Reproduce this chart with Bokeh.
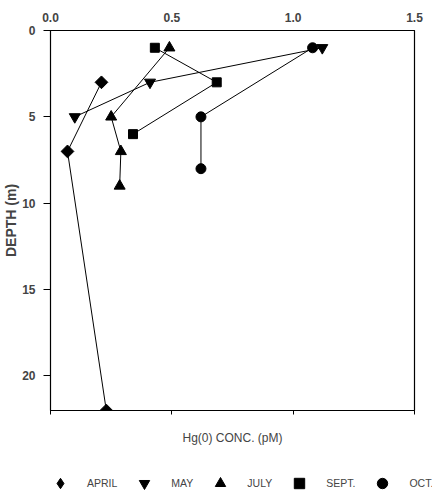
import math
from bokeh.plotting import figure
from bokeh.layouts import column
from bokeh.models import Range1d, LinearAxis, Legend, LegendItem, FixedTicker, CustomJSTickFormatter
from bokeh.embed import file_html
from bokeh.resources import INLINE

# Hg(0) concentration (pM) vs depth (m) for each sampling month
april_conc = [0.21, 0.07, 0.23]
april_depth = [3, 7, 22]
may_conc = [1.12, 0.41, 0.10]
may_depth = [1, 3, 5]
july_conc = [0.49, 0.25, 0.29, 0.285]
july_depth = [1, 5, 7, 9]
sept_conc = [0.43, 0.685, 0.34]
sept_depth = [1, 3, 6]
oct_conc = [1.08, 0.62, 0.62]
oct_depth = [1, 5, 8]

x_ticks = [0.0, 0.5, 1.0, 1.5]
y_ticks = [0, 5, 10, 15, 20]
labels = ["APRIL", "MAY", "JULY", "SEPT.", "OCT."]

FONT = "Liberation Sans"

p = figure(frame_width=364, frame_height=380, output_backend="svg", toolbar_location=None,
           x_range=Range1d(0, 1.5), y_range=Range1d(22, 0),
           x_axis_location="above",
           min_border_left=44, min_border_right=24, min_border_top=30, min_border_bottom=0)
p.grid.visible = False
p.outline_line_color = "black"
p.outline_line_width = 1.2
p.background_fill_color = "white"

# top axis (labels only)
xa = p.xaxis[0]
xa.ticker = FixedTicker(ticks=x_ticks)
xa.formatter = CustomJSTickFormatter(code="return tick.toFixed(1)")
xa.major_tick_out = 0
xa.major_tick_in = 0
xa.minor_tick_out = 0
xa.minor_tick_in = 0
xa.major_label_standoff = 9
xa.major_label_text_font = FONT
xa.major_label_text_font_style = "bold"
xa.major_label_text_font_size = "12px"
xa.axis_line_color = "black"

# left axis
ya = p.yaxis[0]
ya.ticker = FixedTicker(ticks=y_ticks)
ya.major_tick_out = 7
ya.major_tick_in = 0
ya.minor_tick_out = 0
ya.minor_tick_in = 0
ya.major_label_standoff = 8
ya.major_label_text_font = FONT
ya.major_label_text_font_style = "bold"
ya.major_label_text_font_size = "12px"
ya.axis_label = "DEPTH (m)"
ya.axis_label_text_font = FONT
ya.axis_label_text_font_style = "bold"
ya.axis_label_text_font_size = "14px"
ya.axis_label_standoff = 0
ya.axis_line_color = "black"

# bottom axis: ticks only, with the quantity title
xb = LinearAxis(ticker=FixedTicker(ticks=x_ticks),
                formatter=CustomJSTickFormatter(code="return ''"))
xb.major_tick_out = 4
xb.major_tick_in = 0
xb.minor_tick_out = 0
xb.minor_tick_in = 0
xb.major_label_standoff = 0
xb.axis_label = "Hg(0) CONC. (pM)"
xb.axis_label_text_font = FONT
xb.axis_label_text_font_style = "normal"
xb.axis_label_text_font_size = "12px"
xb.axis_label_standoff = 16
p.add_layout(xb, "below")

# (values, depths, plot marker, size, angle, legend marker)
series = [
    (april_conc, april_depth, "square", 9, math.pi / 4, "diamond"),
    (may_conc, may_depth, "inverted_triangle", 11, 0, "inverted_triangle"),
    (july_conc, july_depth, "triangle", 11, 0, "triangle"),
    (sept_conc, sept_depth, "square", 9, 0, "square"),
    (oct_conc, oct_depth, "circle", 10, 0, "circle"),
]

# legend strip below the plot (its ranges exclude the data, so only the legend shows)
p2 = figure(width=432, height=56, output_backend="svg", toolbar_location=None,
            x_range=Range1d(10, 11), y_range=Range1d(100, 101),
            x_axis_location=None, y_axis_location=None, min_border=0)
p2.frame_align = False
p2.grid.visible = False
p2.outline_line_color = None

items = []
for (xs, ys, marker, size, ang, lmarker), lab in zip(series, labels):
    p.line(xs, ys, line_color="black", line_width=1)
    p.scatter(xs, ys, marker=marker, size=size, angle=ang,
              fill_color="black", line_color="black")
    r2 = p2.scatter(xs, ys, marker=lmarker, size=size,
                    fill_color="black", line_color="black")
    items.append(LegendItem(label=lab, renderers=[r2]))

legend = Legend(items=items, orientation="horizontal", location=(47, 6),
                glyph_width=26, glyph_height=28, label_standoff=14, spacing=14,
                padding=0, margin=0, border_line_color=None, background_fill_alpha=0,
                label_text_font=FONT, label_text_font_size="10.5px")
p2.add_layout(legend, "center")

open("out.html", "w").write(file_html(column(p, p2, spacing=0), INLINE))
